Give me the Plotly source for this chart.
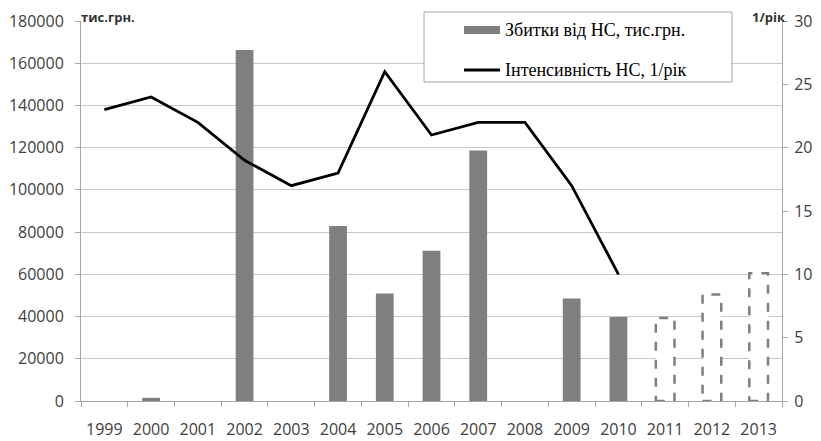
import plotly.graph_objects as go

years = ["1999", "2000", "2001", "2002", "2003", "2004", "2005", "2006",
         "2007", "2008", "2009", "2010", "2011", "2012", "2013"]
# losses, thousand UAH (None = no bar)
losses = [None, 1500, None, 166300, None, 82900, 50900, 71200,
          118700, None, 48500, 39800, None, None, None]
# forecast losses (dashed outline bars)
forecast = [None, None, None, None, None, None, None, None,
            None, None, None, None, 39300, 50400, 60500]
# emergency intensity, 1/year
intensity = [23, 24, 22, 19, 17, 18, 26, 21, 22, 22, 17, 10,
             None, None, None]

left_ticks = list(range(0, 180001, 20000))
left_labels = [str(v) for v in left_ticks]
right_ticks = list(range(0, 31, 5))

# page body has an 8px margin; work in page pixels and convert
OFF = 8
W, H = 821 - OFF, 441 - OFF
L, R, T, B = 81, 782, 21, 401   # plot-area edges in page pixels

def px_x(p):
    return (p - L) / (R - L)

def px_y(p):
    return (B - p) / (B - T)

xs = list(range(len(years)))
tickfont = dict(family="Open Sans", size=16, color="#404040")
axis_col = "#a6a6a6"
grid_col = "#c8c8c8"
bar_col = "#7f7f7f"

fig = go.Figure()
fig.add_trace(go.Bar(
    x=[x for x, v in zip(xs, losses) if v is not None],
    y=[v for v in losses if v is not None],
    width=0.38, marker=dict(color=bar_col, line=dict(width=0)),
    name="Збитки від НС, тис.грн.", showlegend=False))
fig.add_trace(go.Scatter(
    x=[x for x, v in zip(xs, intensity) if v is not None],
    y=[v for v in intensity if v is not None],
    mode="lines", line=dict(color="black", width=2.8),
    yaxis="y2", name="Інтенсивність НС, 1/рік", showlegend=False))

shapes = []
for x, v in zip(xs, forecast):
    if v is None:
        continue
    shapes.append(dict(type="rect", xref="x", yref="y",
                       x0=x - 0.2, x1=x + 0.2, y0=0, y1=v,
                       fillcolor="white",
                       line=dict(color=bar_col, width=2.5, dash="dash"),
                       layer="above"))

# manual legend
shapes.append(dict(type="rect", xref="paper", yref="paper",
                   x0=px_x(424), x1=px_x(732), y0=px_y(82), y1=px_y(12),
                   fillcolor="white", line=dict(color=axis_col, width=1),
                   layer="above"))
shapes.append(dict(type="rect", xref="paper", yref="paper",
                   x0=px_x(464), x1=px_x(500), y0=px_y(34), y1=px_y(26),
                   fillcolor=bar_col, line=dict(width=0), layer="above"))
shapes.append(dict(type="line", xref="paper", yref="paper",
                   x0=px_x(464), x1=px_x(500), y0=px_y(70), y1=px_y(70),
                   line=dict(color="black", width=2.8), layer="above"))

legend_font = dict(family="Liberation Serif", size=18, color="black")
title_font = dict(family="Open Sans", size=13, color="#333333")
annotations = [
    dict(text="Збитки від НС, тис.грн.", xref="paper", yref="paper",
         x=px_x(503), y=px_y(30), xanchor="left", yanchor="middle",
         showarrow=False, font=legend_font),
    dict(text="Інтенсивність НС, 1/рік", xref="paper", yref="paper",
         x=px_x(503), y=px_y(70), xanchor="left", yanchor="middle",
         showarrow=False, font=legend_font),
    dict(text="<b>тис.грн.</b>", xref="paper", yref="paper",
         x=px_x(80), y=px_y(17.5), xanchor="left", yanchor="middle",
         showarrow=False, font=title_font, borderpad=0),
    dict(text="<b>1/рік</b>", xref="paper", yref="paper",
         x=px_x(787), y=px_y(17.5), xanchor="right", yanchor="middle",
         showarrow=False, font=title_font, borderpad=0),
]

fig.update_layout(
    width=W, height=H,
    margin=dict(l=L - OFF, r=W - (R - OFF), t=T - OFF, b=H - (B - OFF),
                pad=0, autoexpand=False),
    paper_bgcolor="white", plot_bgcolor="white",
    shapes=shapes, annotations=annotations,
    xaxis=dict(range=[-0.5, len(years) - 0.5], tickmode="array",
               tickvals=xs, ticktext=years, ticks="", showgrid=False,
               showline=True, linecolor=axis_col, linewidth=1,
               tickfont=tickfont, ticklabelstandoff=14, zeroline=False,
               automargin=False, ticklabeloverflow="allow",
               minor=dict(tickmode="array",
                          tickvals=[x - 0.5 for x in range(len(years) + 1)],
                          ticks="outside", ticklen=5, tickcolor=axis_col,
                          showgrid=False)),
    yaxis=dict(range=[0, 180000], tickmode="array", tickvals=left_ticks,
               ticktext=left_labels,
               ticks="outside", ticklen=5, tickcolor=axis_col,
               showgrid=True, gridcolor=grid_col, gridwidth=1,
               showline=True, linecolor=axis_col, linewidth=1,
               zeroline=False, tickfont=tickfont, ticklabelstandoff=8,
               automargin=False, ticklabeloverflow="allow"),
    yaxis2=dict(range=[0, 30], overlaying="y", side="right",
                tickmode="array", tickvals=right_ticks,
                ticks="outside", ticklen=5, tickcolor=axis_col,
                showgrid=False, showline=True, linecolor=axis_col,
                linewidth=1, zeroline=False, tickfont=tickfont,
                ticklabelstandoff=3, automargin=False,
                ticklabeloverflow="allow"),
)

fig.write_html("out.html")
